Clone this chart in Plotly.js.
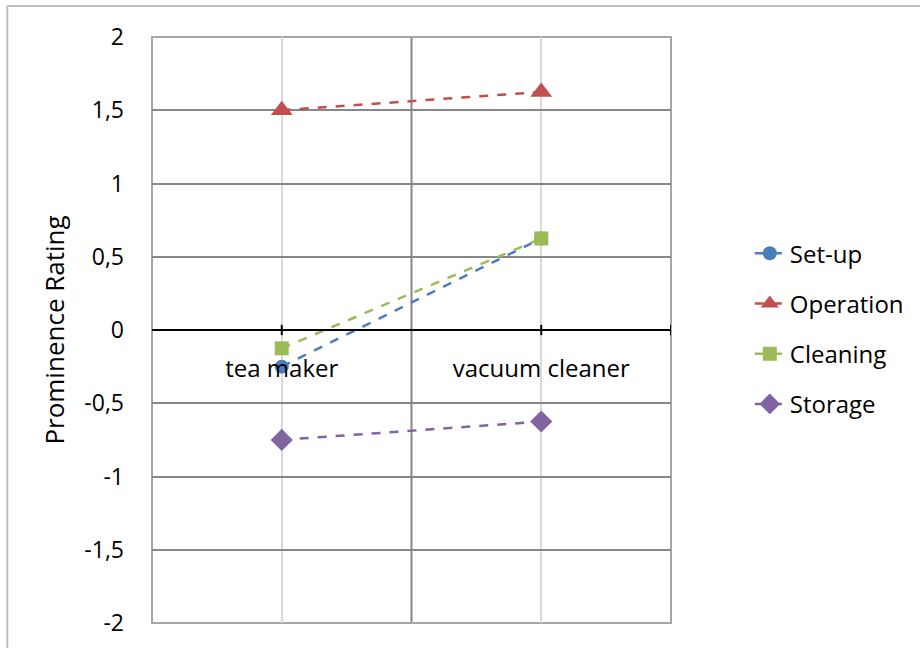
<!DOCTYPE html>
<html>
<head>
<meta charset="utf-8">
<script src="https://cdn.plot.ly/plotly-3.0.1.min.js"></script>
<style>
  html, body { margin: 0; padding: 0; background: #ffffff; overflow: hidden; }
  #chart { width: 920px; height: 648px; }
</style>
</head>
<body>
<div id="chart"></div>
<script>
// Products rated
const products = ['tea maker', 'vacuum cleaner'];

// Prominence rating per aspect
const setUp     = [-0.25, 0.625];
const operation = [1.5, 1.625];
const cleaning  = [-0.125, 0.625];
const storage   = [-0.75, -0.625];

// Value axis ticks
const yTickVals = [-2, -1.5, -1, -0.5, 0, 0.5, 1, 1.5, 2];
const yTickText = ['-2', '-1,5', '-1', '-0,5', '0', '0,5', '1', '1,5', '2'];

const FONT = '"Open Sans", Lato, "DejaVu Sans", sans-serif';

function series(name, values, color, symbol, size, group) {
  return {
    type: 'scatter',
    mode: 'lines+markers',
    name: name,
    x: products,
    y: values,
    legendgroup: group,
    line: { color: color, width: 2.5, dash: 'dash' },
    marker: { color: color, symbol: symbol, size: size, line: { width: 0 } },
    cliponaxis: false
  };
}

const traces = [
  series('Set-up', setUp, '#4a7ebb', 'circle', 14, 'g1'),
  series('Operation', operation, '#c0504d', 'triangle-up', 19, 'g2'),
  series('Cleaning', cleaning, '#9bbb59', 'square', 14, 'g3'),
  series('Storage', storage, '#8064a2', 'diamond', 17, 'g4')
];

// Category boundary line, outlines and the tick marks sitting on the zero line
const shapes = [
  { type: 'line', xref: 'x', yref: 'paper', x0: 0.5, x1: 0.5, y0: 0, y1: 1,
    line: { color: '#878787', width: 2 }, layer: 'below' },
  // plot area outline
  { type: 'rect', xref: 'paper', yref: 'paper', x0: 0, x1: 1, y0: 0, y1: 1,
    line: { color: '#a6a6a6', width: 2 }, layer: 'below' },
  // chart area outline (top and left edges)
  { type: 'line', xref: 'paper', yref: 'paper', x0: -0.2788, x1: 1.6, y0: 1.0529, y1: 1.0529,
    line: { color: '#bfbfbf', width: 2 }, layer: 'below' },
  { type: 'line', xref: 'paper', yref: 'paper', x0: -0.2788, x1: -0.2788, y0: -0.12, y1: 1.0529,
    line: { color: '#bfbfbf', width: 2 }, layer: 'below' }
];
[0, 1, 1.5].forEach(function (xv) {
  shapes.push({ type: 'line', xref: 'x', yref: 'y', x0: xv, x1: xv, y0: -0.035, y1: 0.035,
    line: { color: '#000000', width: 2 } });
});

const layout = {
  width: 920,
  height: 648,
  margin: { l: 152, r: 248, t: 37, b: 25 },
  paper_bgcolor: '#ffffff',
  plot_bgcolor: '#ffffff',
  font: { family: FONT, size: 23, color: '#000000' },
  showlegend: true,
  xaxis: {
    type: 'category',
    range: [-0.5, 1.5],
    anchor: 'free',
    position: 0.5,
    showline: true,
    linecolor: '#000000',
    linewidth: 2,
    showgrid: true,
    gridcolor: '#d9d9d9',
    gridwidth: 2,
    ticks: '',
    ticklabelstandoff: 17,
    tickfont: { family: FONT, size: 24, color: '#000000' },
    zeroline: false,
    fixedrange: true
  },
  yaxis: {
    range: [-2, 2],
    tickmode: 'array',
    tickvals: yTickVals,
    ticktext: yTickText,
    showgrid: true,
    gridcolor: '#878787',
    gridwidth: 2,
    zeroline: true,
    zerolinecolor: '#000000',
    zerolinewidth: 2,
    showline: false,
    ticks: '',
    ticklabelstandoff: 27,
    tickfont: { family: FONT, size: 23, color: '#000000' },
    title: { text: 'Prominence Rating', font: { family: FONT, size: 26, color: '#000000' }, standoff: 12 },
    fixedrange: true
  },
  legend: {
    x: 1.1496,
    xanchor: 'left',
    y: 0.6686,
    yanchor: 'top',
    traceorder: 'grouped',
    tracegroupgap: 16,
    font: { family: FONT, size: 24, color: '#000000' },
    bgcolor: 'rgba(0,0,0,0)'
  },
  shapes: shapes
};

Plotly.newPlot('chart', traces, layout, { displayModeBar: false, staticPlot: true });
</script>
</body>
</html>
